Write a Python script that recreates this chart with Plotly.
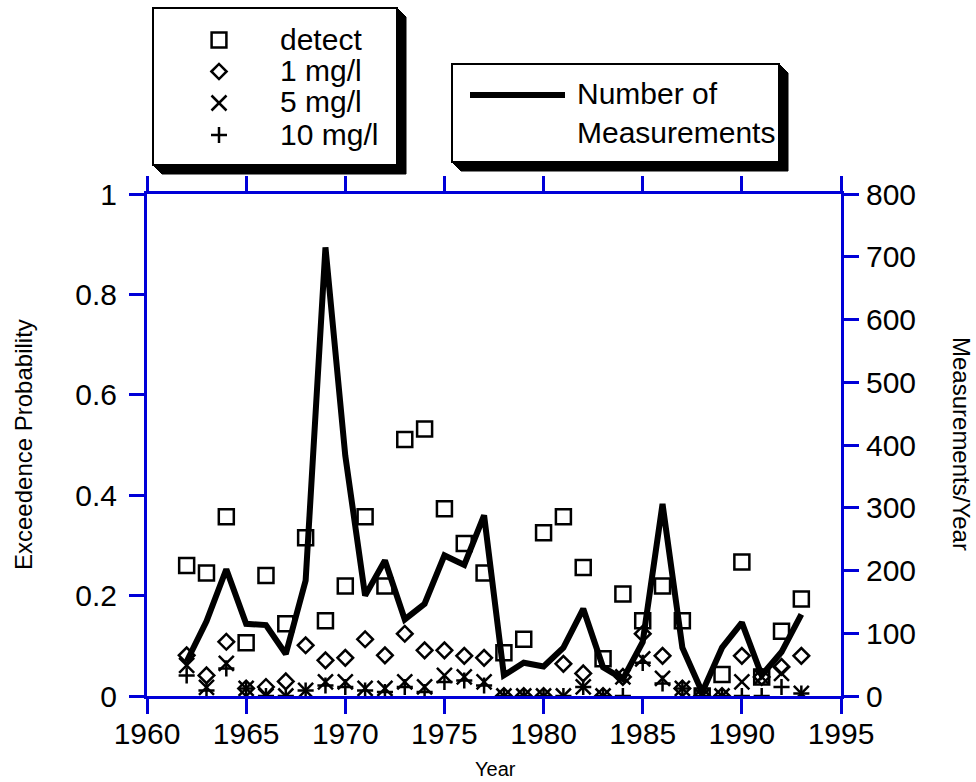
import plotly.graph_objects as go

# ---------------- data ----------------
years = list(range(1962, 1994))
detect = [0.260, 0.245, 0.357, 0.106, 0.240, 0.144, 0.315, 0.150, 0.219, 0.357,
          0.219, 0.511, 0.532, 0.373, 0.304, 0.245, 0.086, 0.113, 0.325, 0.357,
          0.256, 0.074, 0.203, 0.150, 0.219, 0.150, 0.000, 0.043, 0.267, 0.038,
          0.129, 0.193]
mg1 = [0.081, 0.041, 0.108, 0.015, 0.018, 0.029, 0.101, 0.071, 0.076, 0.113,
       0.081, 0.124, 0.091, 0.091, 0.080, 0.076, 0.000, 0.000, 0.000, 0.064,
       0.045, 0.000, 0.038, 0.124, 0.080, 0.015, 0.000, 0.000, 0.080, 0.038,
       0.058, 0.080]
mg5 = [0.061, 0.017, 0.065, 0.015, 0.000, 0.000, 0.011, 0.028, 0.028, 0.015,
       0.015, 0.028, 0.018, 0.041, 0.038, 0.028, 0.000, 0.000, 0.000, 0.000,
       0.018, 0.000, 0.038, 0.074, 0.035, 0.015, 0.000, 0.000, 0.028, 0.038,
       0.045, 0.005]
mg10 = [0.041, 0.011, 0.055, 0.015, 0.000, 0.000, 0.011, 0.021, 0.018, 0.011,
        0.008, 0.018, 0.008, 0.028, 0.031, 0.021, 0.000, 0.000, 0.000, 0.000,
        0.018, 0.000, 0.000, 0.066, 0.025, 0.015, 0.000, 0.000, 0.000, 0.000,
        0.018, 0.005]
measurements = [55, 119, 202, 115, 113, 67, 184, 715, 383, 160, 216, 122, 147,
                224, 209, 288, 33, 53, 47, 77, 139, 46, 27, 86, 306, 77, 6, 77,
                117, 33, 70, 130]

x_ticks = [1960, 1965, 1970, 1975, 1980, 1985, 1990, 1995]
y_ticks = [0, 0.2, 0.4, 0.6, 0.8, 1]
y_tick_text = ["0", "0.2", "0.4", "0.6", "0.8", "1"]
y2_ticks = [0, 100, 200, 300, 400, 500, 600, 700, 800]

legend_labels = ["detect", "1 mg/l", "5 mg/l", "10 mg/l"]
line_label = "Number of<br>Measurements"

# ---------------- layout geometry (pixels) ----------------
W, H = 976, 782
L, R, T, B = 147, 841, 194, 696
BLUE = "#0000d8"
FONT = "Liberation Sans, Arial, sans-serif"


def px(x):
    return (x - L) / (R - L)


def py(y):
    return (B - y) / (B - T)


fig = go.Figure()

sym = dict(color="black", width=2.5)
fig.add_trace(go.Scatter(x=years, y=detect, mode="markers", name=legend_labels[0],
                         marker=dict(symbol="square-open", size=15, color="black", line=sym)))
fig.add_trace(go.Scatter(x=years, y=mg1, mode="markers", name=legend_labels[1],
                         marker=dict(symbol="diamond-open", size=12, color="black", line=sym)))
fig.add_trace(go.Scatter(x=years, y=mg5, mode="markers", name=legend_labels[2],
                         marker=dict(symbol="x-thin", size=15, color="black", line=sym)))
fig.add_trace(go.Scatter(x=years, y=mg10, mode="markers", name=legend_labels[3],
                         marker=dict(symbol="cross-thin", size=11.5, color="black", line=sym)))
fig.add_trace(go.Scatter(x=years, y=measurements, mode="lines", yaxis="y2",
                         name="Number of Measurements",
                         line=dict(color="black", width=6)))

shapes = []


def box(x0, y0, x1, y1, off=9):
    # bevelled drop shadow
    path = (f"M {px(x1)},{py(y0)} L {px(x1 + off)},{py(y0 + off)} "
            f"L {px(x1 + off)},{py(y1 + off)} L {px(x0 + off)},{py(y1 + off)} "
            f"L {px(x0)},{py(y1)} Z")
    shapes.append(dict(type="path", xref="paper", yref="paper", path=path,
                       fillcolor="black", line=dict(color="black", width=1), layer="above"))
    shapes.append(dict(type="rect", xref="paper", yref="paper",
                       x0=px(x0), x1=px(x1), y0=py(y0), y1=py(y1),
                       fillcolor="white", line=dict(color="black", width=2), layer="above"))


box(153, 8, 397, 165)
box(452, 64, 779, 162)

# legend key symbols
KEY = dict(color="black", width=2.5)
kx = 219
leg_rows = [40, 71.5, 103, 135]
# square
s = 7.4
shapes.append(dict(type="rect", xref="paper", yref="paper", x0=px(kx - s), x1=px(kx + s),
                   y0=py(leg_rows[0] - s), y1=py(leg_rows[0] + s), line=KEY, layer="above"))
# diamond
d = 7.6
yy = leg_rows[1]
shapes.append(dict(type="path", xref="paper", yref="paper", layer="above", line=KEY,
                   path=(f"M {px(kx - d)},{py(yy)} L {px(kx)},{py(yy - d)} "
                         f"L {px(kx + d)},{py(yy)} L {px(kx)},{py(yy + d)} Z")))
# x
c = 7.5
yy = leg_rows[2]
shapes.append(dict(type="line", xref="paper", yref="paper", layer="above", line=KEY,
                   x0=px(kx - c), x1=px(kx + c), y0=py(yy - c), y1=py(yy + c)))
shapes.append(dict(type="line", xref="paper", yref="paper", layer="above", line=KEY,
                   x0=px(kx - c), x1=px(kx + c), y0=py(yy + c), y1=py(yy - c)))
# +
c = 8
yy = leg_rows[3]
shapes.append(dict(type="line", xref="paper", yref="paper", layer="above", line=KEY,
                   x0=px(kx - c), x1=px(kx + c), y0=py(yy), y1=py(yy)))
shapes.append(dict(type="line", xref="paper", yref="paper", layer="above", line=KEY,
                   x0=px(kx), x1=px(kx), y0=py(yy - c), y1=py(yy + c)))
# line key
shapes.append(dict(type="line", xref="paper", yref="paper",
                   x0=px(470), x1=px(565), y0=py(95), y1=py(95),
                   line=dict(color="black", width=6), layer="above"))

annotations = []
for lab, yy in zip(legend_labels, leg_rows):
    annotations.append(dict(text=lab, xref="paper", yref="paper", x=px(278), y=py(yy - 1),
                            xanchor="left", yanchor="middle", showarrow=False,
                            font=dict(size=30, color="black", family=FONT)))
annotations.append(dict(text=line_label, xref="paper", yref="paper", x=px(575), y=py(113),
                        xanchor="left", yanchor="middle", showarrow=False, align="left",
                        font=dict(size=30, color="black", family=FONT)))
annotations.append(dict(text="Year", xref="paper", yref="paper", x=px(495), y=py(769),
                        xanchor="center", yanchor="middle", showarrow=False,
                        font=dict(size=20, color="black", family=FONT)))
annotations.append(dict(text="Exceedence Probability", xref="paper", yref="paper",
                        x=px(23), y=py(445), textangle=-90,
                        xanchor="center", yanchor="middle", showarrow=False,
                        font=dict(size=24, color="black", family=FONT)))
annotations.append(dict(text="Measurements/Year", xref="paper", yref="paper",
                        x=px(962), y=py(444), textangle=90,
                        xanchor="center", yanchor="middle", showarrow=False,
                        font=dict(size=24, color="black", family=FONT)))

axis_common = dict(showgrid=False, zeroline=False, showline=True, linecolor=BLUE,
                   linewidth=3, ticks="outside", ticklen=15, tickwidth=2.5,
                   tickcolor=BLUE, tickfont=dict(size=30, color="black", family=FONT))

fig.update_layout(
    width=W, height=H,
    margin=dict(l=L, r=W - R, t=T, b=H - B, pad=0),
    paper_bgcolor="white", plot_bgcolor="white",
    showlegend=False,
    font=dict(family=FONT, color="black"),
    xaxis=dict(range=[1960, 1995], tickmode="array", tickvals=x_ticks,
               mirror="ticks", ticklabelstandoff=-6, **axis_common),
    yaxis=dict(range=[0, 1], tickmode="array", tickvals=y_ticks,
               ticktext=y_tick_text, ticklabelstandoff=6, **axis_common),
    yaxis2=dict(range=[0, 800], tickmode="array", tickvals=y2_ticks,
                overlaying="y", side="right", ticklabelstandoff=1, **axis_common),
    shapes=shapes,
    annotations=annotations,
)

fig.write_html("out.html")
